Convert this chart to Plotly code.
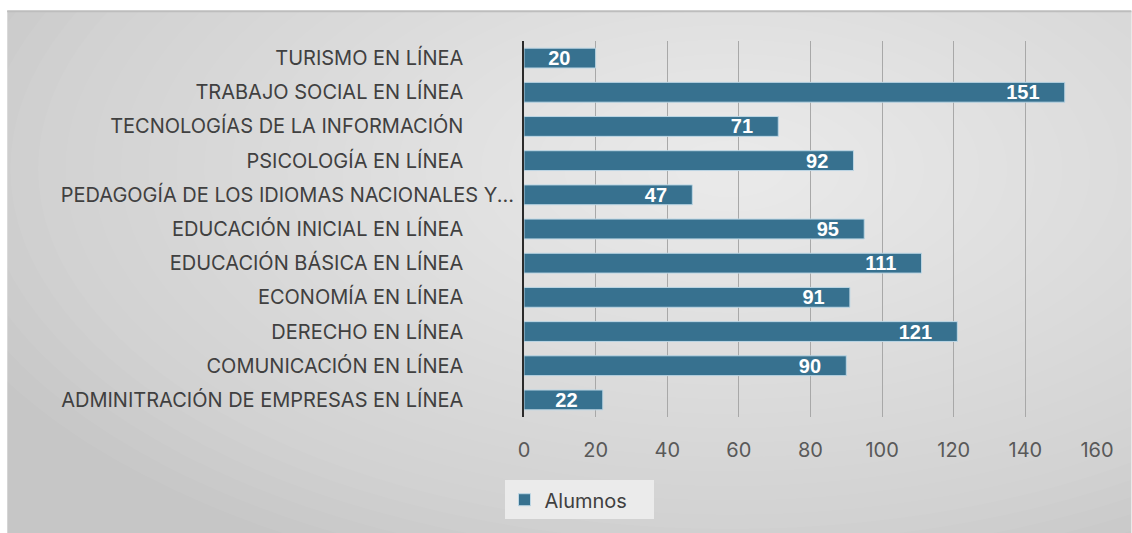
import plotly.graph_objects as go

categories = [
    "ADMINITRACIÓN DE EMPRESAS EN LÍNEA",
    "COMUNICACIÓN EN LÍNEA",
    "DERECHO EN LÍNEA",
    "ECONOMÍA EN LÍNEA",
    "EDUCACIÓN BÁSICA EN LÍNEA",
    "EDUCACIÓN INICIAL EN LÍNEA",
    "PEDAGOGÍA DE LOS IDIOMAS NACIONALES Y...",
    "PSICOLOGÍA EN LÍNEA",
    "TECNOLOGÍAS DE LA INFORMACIÓN",
    "TRABAJO SOCIAL EN LÍNEA",
    "TURISMO EN LÍNEA",
]
alumnos = [22, 90, 121, 91, 111, 95, 47, 92, 71, 151, 20]
series_name = "Alumnos"
x_ticks = [0, 20, 40, 60, 80, 100, 120, 140, 160]

BAR = "#37718f"
PAD = "\u00a0" * 9
ticktext = [c if c.endswith("...") else c + PAD for c in categories]

fig = go.Figure()
fig.add_trace(go.Bar(
    x=alumnos, y=categories, orientation="h", name=series_name,
    marker=dict(color=BAR, line=dict(color="#bcd6e4", width=1)),
    text=alumnos, texttemplate="%{x}" + "\u00a0" * 4,
    textposition="inside", insidetextanchor="end", textangle=0,
    constraintext="none",
    insidetextfont=dict(family="Liberation Sans", size=20, color="white", weight="bold"),
    cliponaxis=False, hoverinfo="skip",
))

# background frame with soft radial-like gradient
shapes = [dict(type="rect", xref="paper", yref="paper", x0=-0.902, x1=1.06, y0=-0.32, y1=1.08,
               fillcolor="#c6c6c6", line=dict(width=0), layer="below")]
n = 30
cx, cy = 0.36, 0.66
for i in range(n):
    f = 1 - i / n
    rx, ry = 1.45 * f, 1.15 * f
    shapes.append(dict(type="circle", xref="paper", yref="paper",
                       x0=cx - rx, x1=cx + rx, y0=cy - ry, y1=cy + ry,
                       fillcolor="white", opacity=0.043, line=dict(width=0), layer="below"))
# mask outside frame (white border)
shapes += [
    dict(type="rect", xref="paper", yref="paper", x0=-1.0, x1=1.2, y0=1.08, y1=1.3,
         fillcolor="white", line=dict(width=0), layer="below"),
    dict(type="rect", xref="paper", yref="paper", x0=-1.0, x1=-0.902, y0=-0.5, y1=1.3,
         fillcolor="white", line=dict(width=0), layer="below"),
    dict(type="line", xref="paper", yref="paper", x0=-0.902, x1=1.06, y0=1.079, y1=1.079,
         line=dict(color="#bdbdbd", width=2), layer="below"),
]

fig.update_layout(
    width=1132, height=533,
    margin=dict(l=524, r=35, t=41, b=116),
    paper_bgcolor="white", plot_bgcolor="rgba(0,0,0,0)",
    shapes=shapes,
    bargap=0.42,
    showlegend=True,
    hovermode=False,
    legend=dict(orientation="h", x=0.096, xanchor="center", y=-0.22, yanchor="middle",
                bgcolor="#ebebeb", font=dict(family="Inter", size=20, color="#404040"),
                itemwidth=30, borderwidth=0, entrywidth=104),
    xaxis=dict(range=[0, 160], tickvals=x_ticks, showgrid=True, gridcolor="#a8a8a8", gridwidth=1,
               zeroline=False, showline=False, ticks="",
               tickfont=dict(family="Inter", size=20, color="#595959"),
               ticklabelstandoff=19, fixedrange=True),
    yaxis=dict(type="category", categoryorder="array", categoryarray=categories,
               tickvals=categories, ticktext=ticktext,
               showgrid=False, showline=True, linecolor="#2b2b2b", linewidth=2,
               ticks="", ticklabelstandoff=4,
               tickfont=dict(family="Inter", size=20, color="#404040"), fixedrange=True),
    font=dict(family="Inter"),
)

fig.write_html("out.html", config={"displayModeBar": False},
               post_script="document.body.style.margin='0';document.body.style.padding='0';")
